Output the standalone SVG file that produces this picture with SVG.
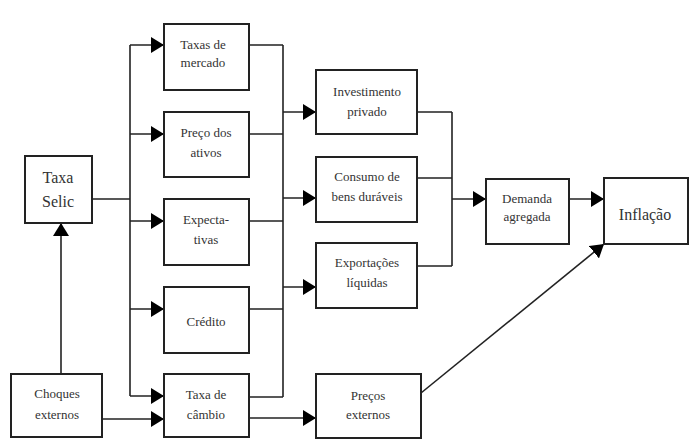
<svg xmlns="http://www.w3.org/2000/svg" width="698" height="441" viewBox="0 0 698 441">
<style>
.box{fill:#fff;stroke:#222;stroke-width:2}
.ln{fill:none;stroke:#222;stroke-width:1.6}
text{font-family:'Liberation Serif','DejaVu Serif',serif;font-size:13px;fill:#333;text-anchor:middle}
.big{font-size:16px}
</style>
<defs>
<marker id="a" viewBox="0 0 13 16" refX="13" refY="8" markerWidth="13" markerHeight="16" orient="auto" markerUnits="userSpaceOnUse">
<path d="M0,0 L13,8 L0,16 z" fill="#000"/>
</marker>
</defs>
<rect width="698" height="441" fill="#fff"/>
<g id="connectors">
<path class="ln" d="M92,199 H130 M130,45 V396"/>
<path class="ln" d="M130,45 H164" marker-end="url(#a)"/>
<path class="ln" d="M130,134 H164" marker-end="url(#a)"/>
<path class="ln" d="M130,221 H164" marker-end="url(#a)"/>
<path class="ln" d="M130,309 H164" marker-end="url(#a)"/>
<path class="ln" d="M130,396 H164" marker-end="url(#a)"/>
<path class="ln" d="M61,374 V223" marker-end="url(#a)"/>
<path class="ln" d="M102,419 H164" marker-end="url(#a)"/>
<path class="ln" d="M249,45 H283 M249,134 H283 M249,221 H283 M249,309 H283 M249,397 H283 M283,45 V397"/>
<path class="ln" d="M283,112 H316" marker-end="url(#a)"/>
<path class="ln" d="M283,198 H316" marker-end="url(#a)"/>
<path class="ln" d="M283,287 H316" marker-end="url(#a)"/>
<path class="ln" d="M249,418 H316" marker-end="url(#a)"/>
<path class="ln" d="M417,112 H452 M417,178 H452 M417,266 H452 M452,112 V266"/>
<path class="ln" d="M452,199 H486" marker-end="url(#a)"/>
<path class="ln" d="M569,199 H604" marker-end="url(#a)"/>
<path class="ln" d="M421,393 L604,244" marker-end="url(#a)"/>
</g>
<g id="selic"><rect class="box" x="25" y="156" width="67" height="67"/><text class="big" x="58" y="183">Taxa</text><text class="big" x="58" y="207">Selic</text></g>
<g id="choques"><rect class="box" x="11" y="374" width="91" height="63"/><text x="57" y="398">Choques</text><text x="57" y="419">externos</text></g>
<g id="taxas-mercado"><rect class="box" x="164" y="24" width="85" height="66"/><text x="203" y="49">Taxas de</text><text x="203" y="67">mercado</text></g>
<g id="preco-ativos"><rect class="box" x="164" y="112" width="85" height="65"/><text x="206" y="137">Preço dos</text><text x="206" y="157">ativos</text></g>
<g id="expectativas"><rect class="box" x="164" y="199" width="85" height="66"/><text x="206" y="224">Expecta-</text><text x="206" y="244">tivas</text></g>
<g id="credito"><rect class="box" x="164" y="287" width="85" height="66"/><text x="206" y="326">Crédito</text></g>
<g id="cambio"><rect class="box" x="164" y="374" width="85" height="63"/><text x="206" y="399">Taxa de</text><text x="206" y="419">câmbio</text></g>
<g id="investimento"><rect class="box" x="316" y="70" width="101" height="64"/><text x="367" y="96">Investimento</text><text x="367" y="116">privado</text></g>
<g id="consumo"><rect class="box" x="316" y="157" width="101" height="65"/><text x="367" y="181">Consumo de</text><text x="367" y="201">bens duráveis</text></g>
<g id="exportacoes"><rect class="box" x="316" y="243" width="101" height="65"/><text x="367" y="267">Exportações</text><text x="367" y="287">líquidas</text></g>
<g id="precos-externos"><rect class="box" x="316" y="374" width="105" height="64"/><text x="368" y="400">Preços</text><text x="368" y="419">externos</text></g>
<g id="demanda"><rect class="box" x="486" y="179" width="83" height="65"/><text x="527" y="203">Demanda</text><text x="527" y="221">agregada</text></g>
<g id="inflacao"><rect class="box" x="604" y="178" width="84" height="66"/><text class="big" x="645" y="220">Inflação</text></g>
</svg>
